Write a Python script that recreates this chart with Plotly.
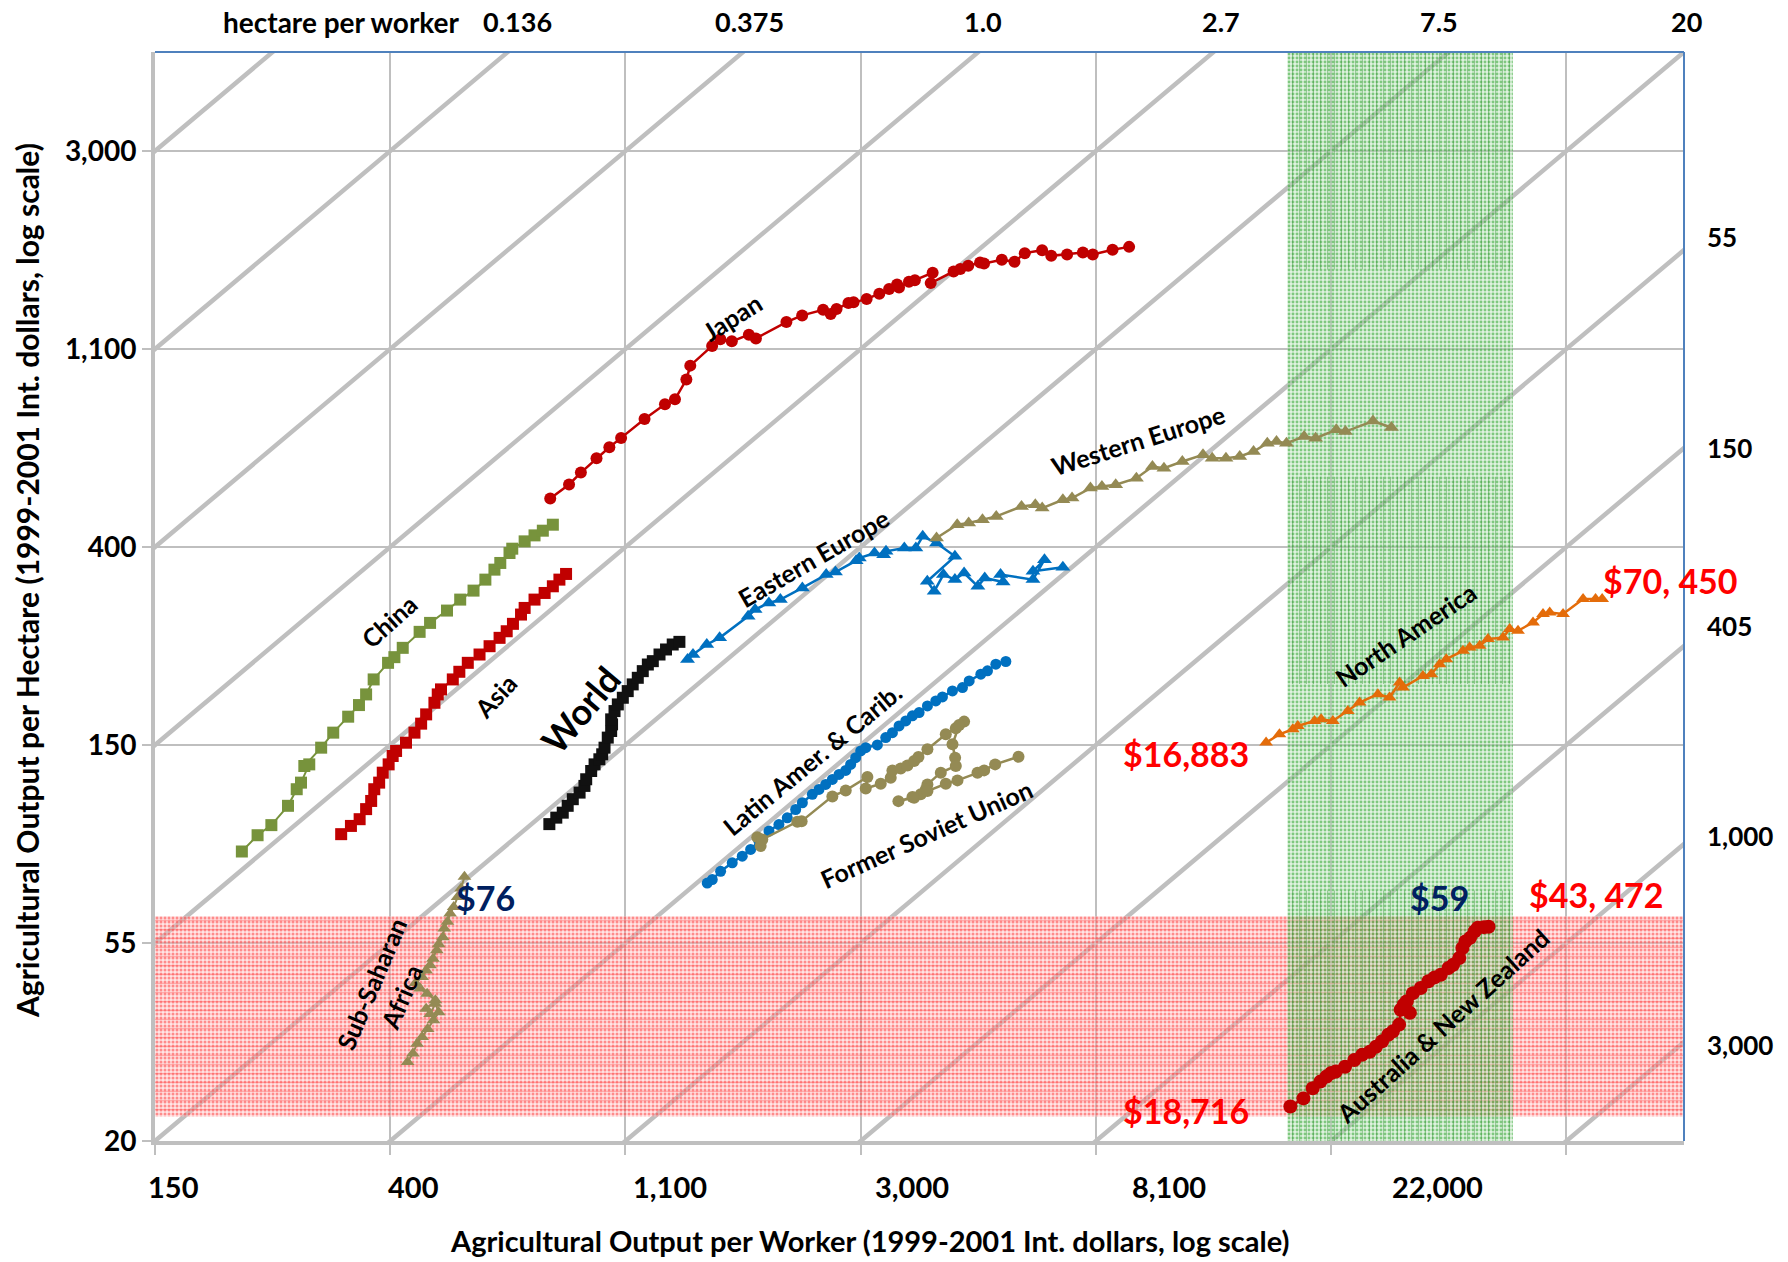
import numpy as np
import plotly.graph_objects as go

# ---------------------------------------------------------------- axes
X_MIN, X_MAX = 150.0, 150.0 * np.exp(6.5)   # output per worker
Y_MIN, Y_MAX = 20.0, 20.0 * np.exp(5.5)     # output per hectare

x_tick_vals = [150 * np.exp(k) for k in range(7)]
x_tick_text = ["150", "400", "1,100", "3,000", "8,100", "22,000", ""]
y_tick_vals = [20 * np.exp(k) for k in range(6)]
y_tick_text = ["20", "55", "150", "400", "1,100", "3,000"]

# hectares per worker (x / y) along each diagonal
land_ratio = [7.5 * np.exp(k) for k in range(-5, 7)]
top_ratio_text = ["0.136", "0.375", "1.0", "2.7", "7.5", "20"]      # land_ratio[1:7]
right_ratio_text = ["55", "150", "405", "1,000", "3,000"]            # land_ratio[7:12]

# ---------------------------------------------------------------- series
japan_x = [805, 872, 917, 980, 1035, 1088, 1202, 1311, 1368, 1436, 1460, 1602, 1659, 1742, 1873, 1930,
           2197, 2349, 2568, 2652, 2719, 2860, 2923, 3090, 3261, 3400, 3517, 3546, 3699, 3793, 4091, 4057,
           4472, 4601, 4759, 5005, 5090, 5490, 5793, 6052, 6516, 6773, 7245, 7748, 8081, 8790, 9431]
japan_y = [513, 551, 585, 629, 665, 697, 767, 826, 847, 936, 1004, 1109, 1147, 1135, 1174, 1152,
           1251, 1294, 1331, 1303, 1336, 1377, 1382, 1405, 1443, 1478, 1513, 1490, 1533, 1546, 1605, 1523,
           1615, 1635, 1662, 1690, 1682, 1713, 1696, 1772, 1799, 1748, 1760, 1778, 1760, 1802, 1829]

china_x = [217, 232, 246, 264, 274, 279, 289, 283, 304, 320, 341, 357, 368, 380, 404, 415,
           430, 462, 483, 519, 549, 581, 611, 635, 651, 677, 685, 722, 753, 780, 814]
china_y = [86.3, 93.7, 98.6, 108.7, 118.2, 122.2, 134, 132.9, 145.8, 157.3, 170.5, 180.8, 190.8, 205.8, 223.8, 230.3,
           241.4, 261.7, 273.8, 291.4, 308, 322.3, 340.7, 358.3, 370.6, 389.7, 398.3, 413.3, 426, 436.2, 449.6]

asia_x = [331, 345, 358, 368, 376, 381, 389, 395, 405, 412, 418, 436, 452, 465, 475, 492, 499,
          506, 532, 547, 567, 596, 622, 649, 669, 687, 711, 722, 753, 786, 814, 837, 861]
asia_y = [94.2, 98.2, 101.6, 106.9, 111.4, 118.2, 122.2, 128.5, 134, 139.8, 143.4, 149.5, 157.3, 164.6, 172.5, 182.9, 190.8,
          195.7, 205.8, 213.9, 223.8, 233.4, 243.4, 253.9, 262.5, 272.5, 285.6, 295.3, 308, 318.5, 329.4, 340.7, 350.6]

world_x = [802, 826, 849, 867, 886, 912, 931, 938, 958, 972, 992, 1004, 1014, 1028, 1043,
           1047, 1043, 1058, 1073, 1096, 1119, 1143, 1168, 1193, 1219, 1245, 1281, 1317, 1355, 1394]
world_y = [99.1, 102.4, 105, 108.7, 112.4, 116.2, 120.2, 124.3, 129.6, 134, 137.5, 141, 145.8, 153.4, 158.6,
           164, 168.2, 175.4, 181.4, 187.6, 194, 200.7, 207.5, 214.6, 221.9, 225.7, 233.4, 239.4, 245.5, 248.8]

east_eu_x = [1443, 1477, 1566, 1654, 1867, 1923, 2039, 2141, 2351, 2602, 2706, 2955, 2995, 3195, 3322, 3355, 3627,
             3809, 3922, 4159, 4497, 3999, 4118, 4282, 4497, 4676, 4958, 5105, 5520, 5460, 6267, 6581, 6267, 7116]
east_eu_y = [227.6, 233.4, 245.5, 253.9, 283.2, 292.9, 302.9, 308, 326.7, 349.4, 354.1, 374.9, 380, 389.7, 386.4, 393, 399.7,
             399.7, 423.9, 409.9, 383.2, 337.9, 321.2, 349.4, 340.7, 352.3, 329.4, 343.6, 336.7, 349.4, 340.7, 376.8, 355.3, 362.6]

west_eu_x = [4159, 4541, 4768, 5056, 5361, 5969, 6329, 6517, 7116, 7399, 8001, 8401, 8908, 9727, 10414, 10936,
             11824, 12911, 13424, 14234, 15093, 16004, 16970, 17646, 18410, 19842, 20834, 22749, 23654, 26593, 28755]
west_eu_y = [420.4, 449.6, 453.4, 461.1, 468.9, 493.1, 497.3, 489, 510, 514.3, 540.9, 545.4, 550, 568.8, 603.3, 598.2,
             618.7, 639.9, 629.2, 629.2, 634.5, 650.7, 678.6, 684.3, 678.6, 701.8, 695.9, 725.8, 719.7, 758.6, 734.4]

latam_x = [1569, 1603, 1661, 1745, 1821, 1887, 1955, 2040, 2128, 2205, 2285, 2351, 2453, 2523, 2596, 2671, 2748, 2827, 2887, 2949,
           3013, 3078, 3234, 3351, 3448, 3547, 3649, 3754, 3862, 4001, 4146, 4265, 4450, 4644, 4778, 5021, 5165, 5352, 5584]
latam_y = [73.6, 74.9, 78.1, 81.5, 84.3, 87.2, 90.9, 95.7, 98.9, 102.3, 106.7, 110.4, 115.2, 118.1, 121.1, 124.2, 127.4, 130, 134, 138.6,
           143.4, 145.8, 147.8, 153.4, 157.3, 162.7, 166.9, 171.2, 174.1, 180, 184.6, 188.4, 194.2, 197.5, 204.3, 211.3, 214.9, 222.3, 225.3]

fsu_x = [1941, 1969, 1983, 2301, 2344, 2671, 2827, 3100, 3078, 3281, 3423, 3448, 3572, 3675, 3781, 3851, 4001, 4326, 4514,
         4677, 4579, 4451, 4501, 4514, 4235, 4001, 3973, 3889, 3781, 3537, 3754, 4001, 4326, 4546, 4950, 5093, 5336, 5893]
fsu_y = [92.8, 88.7, 91.7, 100.3, 100.6, 114, 117.5, 125.7, 118.7, 121.5, 125.3, 130, 131.3, 133.3, 136.3, 139.1, 144.6, 156, 160.8,
         166.3, 163.5, 148.3, 138.6, 132.9, 128.5, 121.1, 118.1, 115.2, 113.2, 111.3, 113.6, 117.1, 121.5, 123.6, 128.5, 130, 134, 139.3]

north_am_x = [16883, 17869, 18912, 19320, 20740, 21335, 22421, 23899, 25117, 27154, 28535, 29777, 30202, 32885, 34071, 35303,
              36318, 38987, 40109, 41852, 43364, 46223, 47552, 49266, 52516, 54796, 56374, 59665, 64963, 68500, 70450]
north_am_y = [149.6, 156, 160, 162.7, 166.9, 168.3, 166.9, 175.5, 183.1, 191, 187.8, 202.6, 197.5, 209.5, 211.3, 222.3,
              228, 237.8, 241.8, 243.9, 252.3, 254.4, 265.4, 263.1, 274.5, 286.3, 288.7, 286.3, 308.8, 308.8, 308.8]

aus_nz_x = [18716, 19784, 20581, 21265, 21830, 22264, 22707, 23619, 24566, 25389, 26233, 26932, 27650, 28381, 28946, 29718, 29915, 30306,
            31114, 30712, 31524, 32575, 33661, 34560, 35478, 36664, 37390, 38383, 38889, 39402, 40189, 40990, 41530, 42633, 43472]
aus_nz_y = [23.8, 24.8, 26.1, 27, 27.7, 28.2, 28.4, 29.1, 30.1, 30.9, 31.4, 32.2, 33.1, 34.2, 34.8, 36, 38.8, 39.8,
            38.2, 40.5, 42.2, 43.3, 44.8, 45.7, 46.3, 47.9, 48.7, 50.4, 53, 54.8, 55.8, 57.7, 58.7, 58.9, 59]

ssa_x = [439, 449, 457, 467, 478, 490, 501, 494, 483, 475, 494, 477, 463, 454, 467, 475, 483, 489, 497, 501,
         510, 513, 520, 526, 534, 543, 551, 559]
ssa_y = [29.8, 31.1, 32.7, 33.8, 35.2, 36.8, 38.3, 40, 38, 39, 40.7, 42.1, 43.2, 44.4, 45.8, 47.3, 48.6, 50.2, 52.4, 54,
         56, 58.5, 60.5, 63.1, 65.2, 68.6, 71.6, 76]

# highlighted ranges
green_band_x = [18480, 48200]                 # output per worker
green_stripe_y = [(1632, Y_MAX), (201, 573), (Y_MIN, 70.9)]
red_band_y = [22.6, 62.3]                     # output per hectare

# ---------------------------------------------------------------- style
FONT = "Lato, 'Open Sans', sans-serif"
RED, GREEN, BLUE, OLIVE, ORANGE = "#C00000", "#77933C", "#0070C0", "#948A54", "#E46C0A"
GRID = "#BFBFBF"
W, H = 1788, 1262
PL, PR, PT, PB = 155, 1684, 52, 1141           # plot area in pixels


def paper(px, py):
    return (px - PL) / (PR - PL), (PB - py) / (PB - PT)


fig = go.Figure()

# diagonal lines of constant land per worker
dx, dy = [], []
for c in land_ratio:
    dx += [c * 5, c * 20000, None]
    dy += [5, 20000, None]
fig.add_trace(go.Scatter(x=dx, y=dy, mode="lines", line=dict(color=GRID, width=4.5),
                         hoverinfo="skip", connectgaps=False))


def box(x0, x1, y0, y1, pattern):
    fig.add_trace(go.Scatter(x=[x0, x1, x1, x0, x0], y=[y0, y0, y1, y1, y0], mode="lines",
                             line=dict(width=0), fill="toself", fillpattern=pattern,
                             fillcolor="rgba(0,0,0,0)", hoverinfo="skip"))


# red band (output per hectare range)
box(X_MIN, X_MAX, red_band_y[0], red_band_y[1],
    dict(shape=".", size=4, solidity=0.45, fgcolor="#FF3030", fgopacity=0.5,
         bgcolor="rgba(255,195,195,0.42)"))
box(X_MIN, X_MAX, red_band_y[0], red_band_y[1],
    dict(shape="-", size=9, solidity=0.15, fgcolor="#FF4040", fgopacity=0.35, bgcolor="rgba(0,0,0,0)"))

# green band (output per worker range)
box(green_band_x[0], green_band_x[1], Y_MIN, Y_MAX,
    dict(shape=".", size=4, solidity=0.42, fgcolor="#1E9E1E", fgopacity=0.5,
         bgcolor="rgba(180,225,180,0.42)"))
for y0, y1 in green_stripe_y:
    box(green_band_x[0], green_band_x[1], y0, y1,
        dict(shape="|", size=7, solidity=0.16, fgcolor="#2E8B2E", fgopacity=0.4, bgcolor="rgba(0,0,0,0)"))


def series(x, y, color, symbol, size, width=2.5):
    fig.add_trace(go.Scatter(x=x, y=y, mode="lines+markers",
                             line=dict(color=color, width=width),
                             marker=dict(color=color, symbol=symbol, size=size, line=dict(width=0)),
                             hoverinfo="skip"))


series(japan_x, japan_y, RED, "circle", 12)
series(china_x, china_y, GREEN, "square", 12, 2)
series(asia_x, asia_y, RED, "square", 12, 2)
series(world_x, world_y, "#111111", "square", 12, 2)
series(east_eu_x, east_eu_y, BLUE, "triangle-up", 13)
series(west_eu_x, west_eu_y, OLIVE, "triangle-up", 13)
series(latam_x, latam_y, BLUE, "circle", 11)
series(fsu_x, fsu_y, OLIVE, "circle", 12)
series(north_am_x, north_am_y, ORANGE, "triangle-up", 12)
series(aus_nz_x, aus_nz_y, RED, "circle", 14)
series(ssa_x, ssa_y, OLIVE, "triangle-up", 12, 2)

ann = []


def text(s, px, py, size=25, color="black", angle=0, xanchor="center"):
    x, y = paper(px, py)
    ann.append(dict(text=s, x=x, y=y, xref="paper", yref="paper", showarrow=False,
                    xanchor=xanchor, yanchor="middle", textangle=angle,
                    font=dict(family=FONT, size=size, color=color, weight="bold")))


# axis titles
text("Agricultural Output per Worker (1999-2001 Int. dollars, log scale)", 869, 1240, 29)
text("Agricultural Output per Hectare (1999-2001 Int. dollars, log scale)", 27, 581, 30, angle=-90)

# x tick labels
for s, cx in zip(x_tick_text, [173, 413, 670, 912, 1169, 1437, None]):
    if s:
        text(s, cx, 1186, 29)

# land-per-worker labels along the top and right edges
text("hectare per worker", 341, 22, 28)
for s, c, sh in zip(top_ratio_text, land_ratio[1:7], [10, 6, 5, 7, -10, 2]):
    ann.append(dict(text=s, x=np.log10(c * Y_MAX), y=paper(0, 22)[1], xref="x", yref="paper",
                    xshift=sh, showarrow=False, xanchor="center", yanchor="middle",
                    font=dict(family=FONT, size=27, color="black", weight="bold")))
for s, c, sh in zip(right_ratio_text, land_ratio[7:12], [13, 0, 20, 8, -3]):
    ann.append(dict(text=s, x=paper(1705, 0)[0], y=np.log10(X_MAX / c), xref="paper", yref="y",
                    yshift=sh, showarrow=False, xanchor="left", yanchor="middle",
                    font=dict(family=FONT, size=26, color="black", weight="bold")))

# series names
text("Japan", 732, 317, 25, angle=-32)
text("China", 389, 621, 25, angle=-42)
text("Asia", 495, 696, 25, angle=-47)
text("World", 580, 710, 36, angle=-50)
text("Eastern Europe", 813, 558, 25, angle=-30)
text("Western Europe", 1138, 440, 25, angle=-17.5)
text("Latin Amer. &amp; Carib.", 812, 759, 25, angle=-39.5)
text("Former Soviet Union", 926, 834, 25, angle=-24)
text("North America", 1405, 635, 25, angle=-34)
text("Sub-Saharan<br>Africa", 386, 990, 25, angle=-67)
text("Australia &amp; New Zealand", 1442, 1026, 25, angle=-42)

# endpoint values
NAVY = "#002060"
text("$76", 485, 897, 34, NAVY)
text("$59", 1439, 897, 34, NAVY)
text("$43, 472", 1596, 895, 34, "#FF0000")
text("$70, 450", 1670, 580, 34, "#FF0000")
text("$16,883", 1186, 753, 34, "#FF0000")
text("$18,716", 1186, 1110, 34, "#FF0000")

fig.update_layout(
    width=W, height=H,
    margin=dict(l=PL, r=W - PR, t=PT, b=H - PB),
    plot_bgcolor="white", paper_bgcolor="white",
    showlegend=False, hovermode=False,
    font=dict(family=FONT, color="black"),
    annotations=ann,
    shapes=[
        dict(type="line", xref="paper", yref="paper", x0=0, x1=1, y0=1, y1=1,
             line=dict(color="#4F81BD", width=2), layer="above"),
        dict(type="line", xref="paper", yref="paper", x0=1, x1=1, y0=0, y1=1,
             line=dict(color="#4F81BD", width=2), layer="above"),
    ],
)
fig.update_xaxes(type="log", range=[np.log10(X_MIN), np.log10(X_MAX)],
                 tickvals=x_tick_vals, ticktext=x_tick_text, showticklabels=False,
                 ticks="outside", ticklen=10, tickwidth=2, tickcolor=GRID,
                 showgrid=True, gridcolor=GRID, gridwidth=2,
                 showline=True, linecolor=GRID, linewidth=4, automargin=False, zeroline=False)
fig.update_yaxes(type="log", range=[np.log10(Y_MIN), np.log10(Y_MAX)],
                 tickvals=y_tick_vals, ticktext=y_tick_text,
                 tickfont=dict(family=FONT, size=28, color="black", weight="bold"),
                 ticks="outside", ticklen=9, tickwidth=2, tickcolor=GRID,
                 showgrid=True, gridcolor=GRID, gridwidth=2,
                 showline=True, linecolor=GRID, linewidth=4, automargin=False, zeroline=False)

fig.write_html("out.html")
